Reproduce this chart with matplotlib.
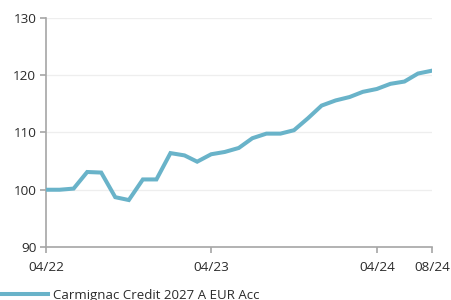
import numpy as np
import pandas as pd
import matplotlib
matplotlib.use("Agg")
import matplotlib.pyplot as plt
import matplotlib.dates as mdates

plt.rcParams["font.family"] = ["Open Sans", "DejaVu Sans"]

# monthly values, 04/2022 .. 08/2024
dates = pd.date_range("2022-04-01", "2024-08-01", freq="MS")
values = [100.0, 100.0, 100.2, 103.1, 103.0, 98.7, 98.2, 101.8, 101.8,
          106.4, 106.0, 104.9, 106.2, 106.6, 107.3, 109.0, 109.8, 109.8,
          110.4, 112.5, 114.7, 115.6, 116.2, 117.1, 117.6, 118.5, 118.9,
          120.3, 120.8]
series_name = "Carmignac Credit 2027 A EUR Acc"

xtick_dates = pd.to_datetime(["2022-04-01", "2023-04-01", "2024-04-01", "2024-08-01"])
xtick_labels = ["04/22", "04/23", "04/24", "08/24"]
yticks = [90, 100, 110, 120, 130]

line_color = "#69b3c9"
grey = "#a6a6a6"
text_color = "#2b2b2b"

fig = plt.figure(figsize=(4.52, 3.00), dpi=100)
ax = fig.add_axes([0.1018, 0.1767, 0.854, 0.7633])

ax.plot(dates, values, color=line_color, lw=2.9, solid_joinstyle="miter",
        label=series_name, zorder=3)

ax.set_xlim(dates[0], dates[-1])
ax.set_ylim(90, 130)
ax.set_yticks(yticks)
ax.set_xticks(xtick_dates)
ax.set_xticklabels(xtick_labels)

ax.grid(axis="y", color="#eeeeee", lw=0.9)
ax.set_axisbelow(True)
for s in ["top", "right"]:
    ax.spines[s].set_visible(False)
for s in ["left", "bottom"]:
    ax.spines[s].set_color(grey)
    ax.spines[s].set_linewidth(1.2)

ax.tick_params(axis="both", colors=grey, labelcolor=text_color, labelsize=9.7,
               width=1.2, length=4)
ax.tick_params(axis="x", pad=6)
ax.tick_params(axis="y", pad=3)

fig.legend(loc="lower left", bbox_to_anchor=(0.0, -0.005), frameon=False,
           fontsize=9.5, labelcolor=text_color, handlelength=3.6,
           handletextpad=0.45, borderaxespad=0, borderpad=0)

fig.savefig("out.png", dpi=100)
